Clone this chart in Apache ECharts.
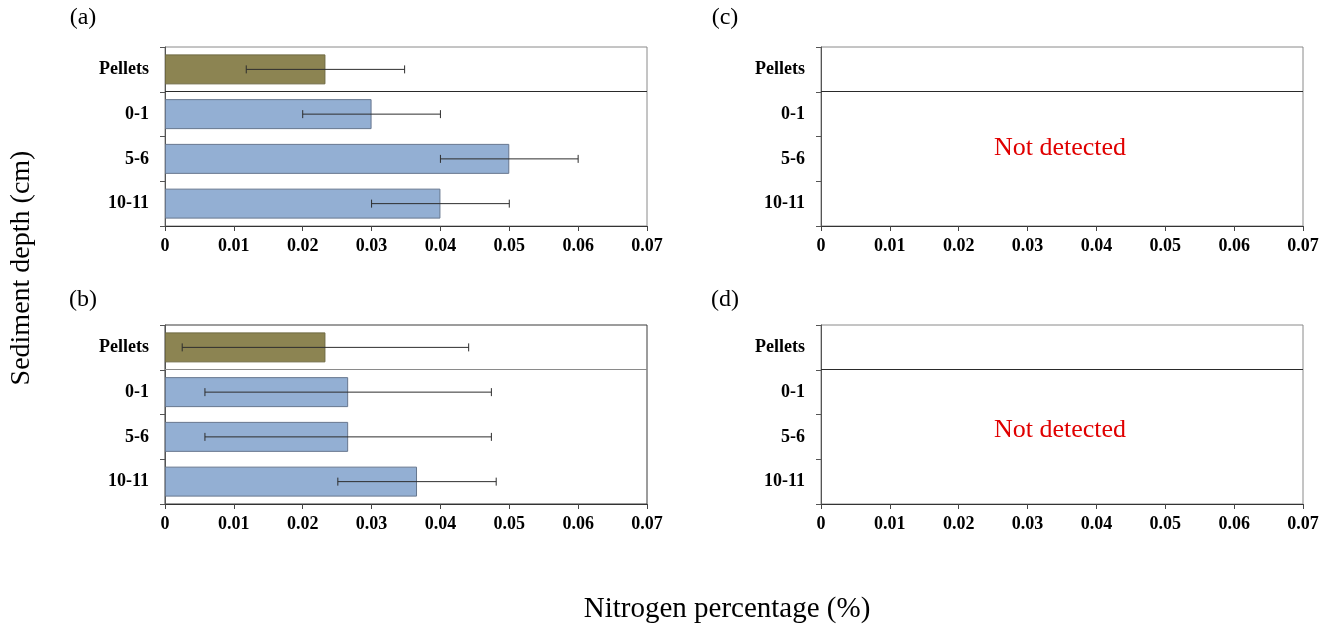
<!DOCTYPE html>
<html>
<head>
<meta charset="utf-8">
<title>Nitrogen percentage by sediment depth</title>
<script src="https://cdn.jsdelivr.net/npm/echarts@6/dist/echarts.min.js"></script>
<style>
  html, body { margin: 0; padding: 0; background: #fff; }
  #chart { width: 1335px; height: 626px; }
</style>
</head>
<body>
<div id="chart"></div>
<script>
// Depth classes shown on every panel (top to bottom)
const categories = ['Pellets', '0-1', '5-6', '10-11'];

// Panel (a): mean nitrogen percentage and error half-width
const valuesA = [0.0233, 0.03, 0.05, 0.04];
const errorsA = [0.0115, 0.01, 0.01, 0.01];

// Panel (b): mean nitrogen percentage and error half-width
const valuesB = [0.0233, 0.0266, 0.0266, 0.0366];
const errorsB = [0.0208, 0.0208, 0.0208, 0.0115];

// Value axis range and step
const xMin = 0;
const xMax = 0.07;
const xStep = 0.01;

const panelLetters = ['(a)', '(b)', '(c)', '(d)'];
const emptyNote = 'Not detected';

const SERIF = "'Liberation Serif', 'Times New Roman', serif";
const PELLET_COLOR = '#8c8452';
const SEDIMENT_COLOR = '#93afd3';

const grids = [
  { left: 165, top: 47, width: 482, height: 179 },
  { left: 165, top: 325, width: 482, height: 179 },
  { left: 821, top: 47, width: 482, height: 179 },
  { left: 821, top: 325, width: 482, height: 179 }
];
const frameColors = ['#8a8a8a', '#3a3a3a', '#8a8a8a', '#8a8a8a'];
const dividerColors = ['#2a2a2a', '#8a8a8a', '#2a2a2a', '#2a2a2a'];

const chart = echarts.init(document.getElementById('chart'), null, { renderer: 'canvas' });

const gridOpts = grids.map((g, i) => Object.assign({
  show: true,
  borderColor: frameColors[i],
  borderWidth: 1,
  backgroundColor: 'transparent',
  containLabel: false,
  outerBoundsMode: 'none'
}, g));

const xAxes = grids.map((g, i) => ({
  type: 'value',
  gridIndex: i,
  min: xMin,
  max: xMax,
  interval: xStep,
  axisLine: { show: true, lineStyle: { color: '#333', width: 1 } },
  axisTick: { show: true, inside: false, length: 5, lineStyle: { color: '#444' } },
  splitLine: { show: false },
  axisLabel: {
    margin: 11,
    color: '#000',
    fontFamily: SERIF,
    fontWeight: 'bold',
    fontSize: 18,
    formatter: v => (v === 0 ? '0' : String(+v.toFixed(2)))
  }
}));

const yAxes = grids.map((g, i) => ({
  type: 'category',
  gridIndex: i,
  data: categories,
  inverse: true,
  boundaryGap: true,
  axisLine: { show: true, lineStyle: { color: '#555', width: 1 } },
  axisTick: { show: true, inside: false, length: 5, alignWithLabel: false, lineStyle: { color: '#555' } },
  splitLine: { show: false },
  axisLabel: {
    margin: 16,
    color: '#000',
    fontFamily: SERIF,
    fontWeight: 'bold',
    fontSize: 18
  }
}));

function barSeries(values, idx) {
  return {
    type: 'bar',
    xAxisIndex: idx,
    yAxisIndex: idx,
    barCategoryGap: '33%',
    silent: true,
    itemStyle: { borderColor: '#66768e', borderWidth: 1 },
    data: values.map((v, k) => ({
      value: v,
      itemStyle: {
        color: k === 0 ? PELLET_COLOR : SEDIMENT_COLOR,
        borderColor: k === 0 ? '#6e6840' : '#66768e'
      }
    })),
    z: 2
  };
}

function errorSeries(values, errors, idx) {
  return {
    type: 'custom',
    xAxisIndex: idx,
    yAxisIndex: idx,
    silent: true,
    encode: { x: 0, y: 1 },
    data: values.map((v, k) => [v, k, errors[k]]),
    renderItem: function (params, api) {
      const v = api.value(0);
      const c = api.value(1);
      const e = api.value(2);
      const lo = api.coord([v - e, c]);
      const hi = api.coord([v + e, c]);
      const cap = 4;
      const style = { stroke: '#2e2e2e', lineWidth: 1 };
      return {
        type: 'group',
        children: [
          { type: 'line', shape: { x1: lo[0], y1: lo[1], x2: hi[0], y2: hi[1] }, style },
          { type: 'line', shape: { x1: lo[0], y1: lo[1] - cap, x2: lo[0], y2: lo[1] + cap }, style },
          { type: 'line', shape: { x1: hi[0], y1: hi[1] - cap, x2: hi[0], y2: hi[1] + cap }, style }
        ]
      };
    },
    z: 5
  };
}

// Horizontal rule separating the pellet row from the sediment rows
function dividerSeries(idx) {
  return {
    type: 'custom',
    xAxisIndex: idx,
    yAxisIndex: idx,
    silent: true,
    encode: { x: 0, y: 1 },
    data: [[xMin, 0]],
    renderItem: function (params, api) {
      const p0 = api.coord([xMin, 0]);
      const p1 = api.coord([xMax, 0]);
      const band = api.size([0, 1])[1];
      const y = Math.round(p0[1] + band / 2) - 0.5;
      return {
        type: 'line',
        shape: { x1: p0[0], y1: y, x2: p1[0], y2: y },
        style: { stroke: dividerColors[idx], lineWidth: 1 }
      };
    },
    z: 4
  };
}

const series = [
  barSeries(valuesA, 0),
  errorSeries(valuesA, errorsA, 0),
  barSeries(valuesB, 1),
  errorSeries(valuesB, errorsB, 1),
  dividerSeries(0),
  dividerSeries(1),
  dividerSeries(2),
  dividerSeries(3)
];

const letterPos = [[83, 18], [83, 300], [725, 18], [725, 300]];
const textGraphics = panelLetters.map((t, i) => ({
  type: 'text',
  x: letterPos[i][0],
  y: letterPos[i][1],
  style: {
    text: t, fill: '#000', font: '24px ' + SERIF,
    textAlign: 'center', textVerticalAlign: 'middle'
  }
}));

textGraphics.push(
  {
    type: 'text', x: 1060, y: 148,
    style: { text: emptyNote, fill: '#e00000', font: '26px ' + SERIF, textAlign: 'center', textVerticalAlign: 'middle' }
  },
  {
    type: 'text', x: 1060, y: 430,
    style: { text: emptyNote, fill: '#e00000', font: '26px ' + SERIF, textAlign: 'center', textVerticalAlign: 'middle' }
  },
  {
    type: 'text', x: 727, y: 609,
    style: { text: 'Nitrogen percentage (%)', fill: '#000', font: '29px ' + SERIF, textAlign: 'center', textVerticalAlign: 'middle' }
  },
  {
    type: 'text', x: 22, y: 268, rotation: Math.PI / 2,
    style: { text: 'Sediment depth (cm)', fill: '#000', font: '28px ' + SERIF, textAlign: 'center', textVerticalAlign: 'middle' }
  }
);

chart.setOption({
  animation: false,
  backgroundColor: '#ffffff',
  grid: gridOpts,
  xAxis: xAxes,
  yAxis: yAxes,
  series: series,
  graphic: textGraphics
});
</script>
</body>
</html>
